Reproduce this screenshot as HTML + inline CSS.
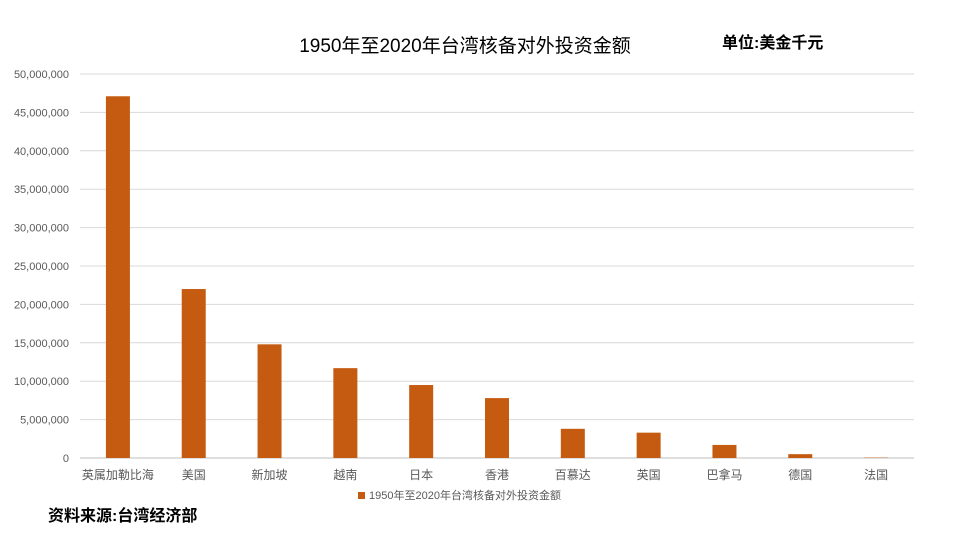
<!DOCTYPE html>
<html><head><meta charset="utf-8"><style>
body{margin:0;background:#fff;font-family:"Liberation Sans","Noto Sans CJK SC",sans-serif}
</style></head><body>
<svg id="c" width="960" height="540" xmlns="http://www.w3.org/2000/svg" font-family="Liberation Sans, Noto Sans CJK SC, sans-serif">
<text x="465" y="52" font-size="19" text-anchor="middle" fill="#000">1950年至2020年台湾核备对外投资金额</text>
<text x="722" y="48" font-size="16" font-weight="bold" fill="#000">单位:美金千元</text>
<text x="48" y="521" font-size="16" font-weight="bold" fill="#000">资料来源:台湾经济部</text>
<g id="grid"></g><g id="bars"></g><g id="xl"></g>
<rect x="358" y="492" width="7" height="7" fill="#C55A11"/>
<text x="369" y="499" font-size="11" fill="#595959">1950年至2020年台湾核备对外投资金额</text>
</svg>
<script>
const categories=["英属加勒比海","美国","新加坡","越南","日本","香港","百慕达","英国","巴拿马","德国","法国"];
const values=[47100000,22000000,14800000,11700000,9500000,7800000,3800000,3300000,1700000,500000,50000];
const ticks=[0,5000000,10000000,15000000,20000000,25000000,30000000,35000000,40000000,45000000,50000000];
const ns="http://www.w3.org/2000/svg";
const x0=80,x1=914,y0=458,y1=74,maxV=50000000;
const y=v=>y0-(v/maxV)*(y0-y1);
const bw=(x1-x0)/categories.length;
const xc=i=>x0+bw*(i+0.5);
function mk(t,a,p){const e=document.createElementNS(ns,t);for(const k in a)e.setAttribute(k,a[k]);p.appendChild(e);return e;}
const g=document.getElementById('grid');
ticks.forEach(t=>{
 const l=mk('line',{x1:x0,x2:x1,y1:y(t),y2:y(t),stroke:t===0?'#bfbfbf':'#d9d9d9','stroke-width':1},g);
 
 
 const tx=mk('text',{x:69,y:y(t)+4,'font-size':11,'text-anchor':'end',fill:'#595959'},g);
 tx.textContent=t.toLocaleString('en-US');
 
 
});
const b=document.getElementById('bars'),xl=document.getElementById('xl');
values.forEach((v,i)=>{
 const r=mk('rect',{x:xc(i)-12,y:y(v),width:24,height:y0-y(v),fill:'#C55A11'},b);
 
 
 const t=mk('text',{x:xc(i),y:479,'font-size':12,'text-anchor':'middle',fill:'#595959'},xl);
 t.textContent=categories[i];
 
 
});
</script>
</body></html>
